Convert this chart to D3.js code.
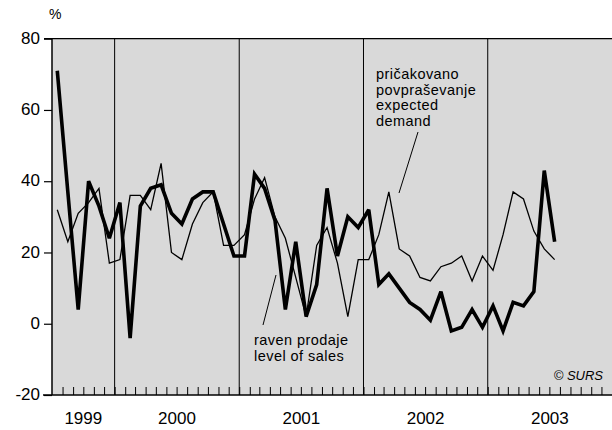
<!DOCTYPE html>
<html>
<head>
<meta charset="utf-8">
<script src="https://cdn.jsdelivr.net/npm/d3@7"></script>
<style>
  html, body { margin: 0; padding: 0; background: #fff; }
  svg { display: block; }
  text { font-family: "Liberation Sans", Arial, Helvetica, sans-serif; fill: #000; }
</style>
</head>
<body>
<svg id="chart" width="612" height="430"></svg>
<script>
// ---- data ----
const startMonth = "1999-07";          // first month shown on the axis
const endMonth = "2004-01";            // axis end (exclusive)
const sales = [71, 37, 4, 40, 33, 24, 34, -4, 33, 38, 39, 31, 28, 35, 37, 37, 28, 19, 19, 42,
               38, 29, 4, 23, 2, 11, 38, 19, 30, 27, 32, 11, 14, 10, 6, 4, 1, 9, -2, -1,
               4, -1, 5, -2, 6, 5, 9, 43, 23];
const demand = [32, 23, 31, 34, 38, 17, 18, 36, 36, 32, 45, 20, 18, 28, 34, 37, 22, 22, 25, 35,
                41, 30, 24, 13, 2, 22, 27, 17, 2, 18, 18, 25, 37, 21, 19, 13, 12, 16, 17, 19,
                12, 19, 15, 25, 37, 35, 26, 21, 18];
const yearLabels = ["1999", "2000", "2001", "2002", "2003"];
const yTicks = [80, 60, 40, 20, 0, -20];
const demandLabel = ["pričakovano", "povpraševanje", "expected", "demand"];
const salesLabel = ["raven prodaje", "level of sales"];
const sourceLabel = "© SURS";

// ---- layout ----
const W = 612, H = 430;
const plot = { left: 52, right: 612, top: 38.7, bottom: 395 };
const svg = d3.select("#chart");

const parse = d3.utcParse("%Y-%m");
const t0 = parse(startMonth), t1 = parse(endMonth);
const x = d3.scaleUtc().domain([t0, t1]).range([plot.left, plot.right]);
const y = d3.scaleLinear().domain([-20, 80]).range([plot.bottom, plot.top]);

const months = d3.utcMonth.range(t0, t1);
const mid = d => new Date((+d + +d3.utcMonth.offset(d, 1)) / 2);

// background
svg.append("rect")
  .attr("x", plot.left).attr("y", plot.top)
  .attr("width", plot.right - plot.left).attr("height", plot.bottom - plot.top)
  .attr("fill", "#d9d9d9");

// year separators
const yearStarts = d3.utcYear.range(d3.utcYear.ceil(d3.utcDay.offset(t0, 1)), t1);
svg.append("g").selectAll("line").data(yearStarts).join("line")
  .attr("x1", d => x(d)).attr("x2", d => x(d))
  .attr("y1", plot.top).attr("y2", plot.bottom)
  .attr("stroke", "#000").attr("stroke-width", 1);

// month ticks (inside, at bottom)
const mAxis = d3.axisBottom(x).tickValues(months.slice(1)).tickSize(-8).tickFormat("");
const mg = svg.append("g").attr("transform", `translate(0,${plot.bottom})`).call(mAxis);
mg.select(".domain").remove();
mg.selectAll(".tick line").attr("stroke", "#000").attr("stroke-width", 1);

// year labels
const yearPos = yearLabels.map(s => {
  const a = d3.max([parse(s + "-01"), t0]);
  const b = d3.min([parse((+s + 1) + "-01"), t1]);
  return new Date((+a + +b) / 2);
});
svg.append("g").selectAll("text").data(yearLabels).join("text")
  .attr("x", (d, i) => x(yearPos[i]))
  .attr("y", 424)
  .attr("text-anchor", "middle")
  .attr("font-size", 17)
  .text(d => d);

// y axis
const yAxis = d3.axisLeft(y).tickValues(yTicks).tickSize(8).tickPadding(4).tickFormat(d => d);
const yg = svg.append("g").attr("transform", `translate(${plot.left},0)`).call(yAxis);
yg.select(".domain").remove();
yg.selectAll(".tick line").attr("stroke", "#000").attr("stroke-width", 1.2);
yg.selectAll(".tick text")
  .attr("font-size", 17)
  .attr("font-family", '"Liberation Sans", Arial, Helvetica, sans-serif')
  .attr("fill", "#000")
  .attr("dy", "0.28em");

// borders: left, top, bottom
svg.append("line").attr("x1", plot.left).attr("x2", plot.left)
  .attr("y1", plot.top).attr("y2", plot.bottom).attr("stroke", "#000").attr("stroke-width", 1.5);
svg.append("line").attr("x1", plot.left - 8).attr("x2", plot.right)
  .attr("y1", y(80)).attr("y2", y(80)).attr("stroke", "#000").attr("stroke-width", 1.2);
svg.append("line").attr("x1", plot.left - 9).attr("x2", plot.right)
  .attr("y1", y(-20)).attr("y2", y(-20)).attr("stroke", "#000").attr("stroke-width", 1.5);

// "%" unit
svg.append("text").attr("x", 49).attr("y", 19).attr("font-size", 14).text("%");

// lines
const line = d3.line().x((d, i) => x(mid(months[i]))).y(d => y(d));
svg.append("path").datum(demand)
  .attr("d", line).attr("fill", "none")
  .attr("stroke", "#000").attr("stroke-width", 1.3).attr("stroke-linejoin", "miter");
svg.append("path").datum(sales)
  .attr("d", line).attr("fill", "none")
  .attr("stroke", "#000").attr("stroke-width", 3.6).attr("stroke-linejoin", "miter")
  .attr("stroke-miterlimit", 3);

// annotations
const lh = 15.6;
const dl = svg.append("text").attr("font-size", 14.5).attr("letter-spacing", 0.45);
demandLabel.forEach((s, i) => {
  dl.append("tspan").attr("x", 376).attr("y", 79 + i * lh).text(s);
});
svg.append("line").attr("x1", 418).attr("y1", 132).attr("x2", 399).attr("y2", 193)
  .attr("stroke", "#000").attr("stroke-width", 1);

const sl = svg.append("text").attr("font-size", 14.5).attr("letter-spacing", 0.45);
salesLabel.forEach((s, i) => {
  sl.append("tspan").attr("x", 254).attr("y", 345 + i * lh).text(s);
});
svg.append("line").attr("x1", 276).attr("y1", 275).attr("x2", 263).attr("y2", 325)
  .attr("stroke", "#000").attr("stroke-width", 1);

svg.append("text").attr("x", 603).attr("y", 380).attr("text-anchor", "end")
  .attr("font-size", 13).attr("font-style", "italic").text(sourceLabel);
</script>
</body>
</html>
